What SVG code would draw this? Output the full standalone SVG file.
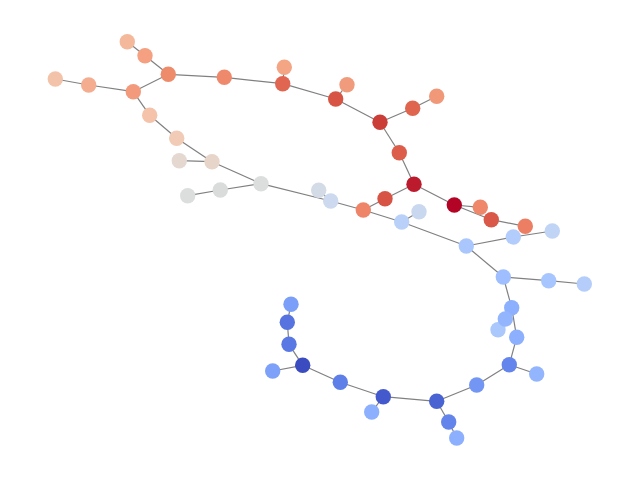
<svg xmlns="http://www.w3.org/2000/svg" width="640" height="480" viewBox="0 0 640 480">
<style>
.e{stroke:#808080;stroke-width:1.2;fill:none}
.n circle{r:7.7;stroke:none}
</style>
<rect width="640" height="480" fill="#ffffff"/>
<g id="edges" class="e">
<line x1="127.3" y1="41.7" x2="145" y2="55.7"/>
<line x1="145" y1="55.7" x2="168.3" y2="74.3"/>
<line x1="168.3" y1="74.3" x2="133.3" y2="91.7"/>
<line x1="133.3" y1="91.7" x2="88.7" y2="85"/>
<line x1="88.7" y1="85" x2="55.3" y2="79"/>
<line x1="168.3" y1="74.3" x2="224.3" y2="77.3"/>
<line x1="224.3" y1="77.3" x2="282.7" y2="83.7"/>
<line x1="282.7" y1="83.7" x2="284.3" y2="67.3"/>
<line x1="282.7" y1="83.7" x2="335.7" y2="99"/>
<line x1="335.7" y1="99" x2="347" y2="84.7"/>
<line x1="335.7" y1="99" x2="380" y2="122.3"/>
<line x1="380" y1="122.3" x2="412.7" y2="108.3"/>
<line x1="412.7" y1="108.3" x2="436.7" y2="96.3"/>
<line x1="380" y1="122.3" x2="399.3" y2="152.7"/>
<line x1="399.3" y1="152.7" x2="414" y2="184.3"/>
<line x1="414" y1="184.3" x2="385" y2="198.7"/>
<line x1="385" y1="198.7" x2="363.3" y2="210"/>
<line x1="414" y1="184.3" x2="454.3" y2="205"/>
<line x1="454.3" y1="205" x2="480.3" y2="207.3"/>
<line x1="454.3" y1="205" x2="491.3" y2="219.7"/>
<line x1="491.3" y1="219.7" x2="525.3" y2="226.3"/>
<line x1="133.3" y1="91.7" x2="149.7" y2="115.3"/>
<line x1="149.7" y1="115.3" x2="176.7" y2="138.3"/>
<line x1="176.7" y1="138.3" x2="212" y2="161.7"/>
<line x1="212" y1="161.7" x2="179.3" y2="160.7"/>
<line x1="212" y1="161.7" x2="261" y2="183.7"/>
<line x1="261" y1="183.7" x2="220.3" y2="190"/>
<line x1="220.3" y1="190" x2="187.7" y2="195.7"/>
<line x1="261" y1="183.7" x2="330.7" y2="201"/>
<line x1="318.7" y1="190.3" x2="330.7" y2="201"/>
<line x1="330.7" y1="201" x2="363.3" y2="210"/>
<line x1="363.3" y1="210" x2="401.7" y2="222"/>
<line x1="401.7" y1="222" x2="419" y2="211.7"/>
<line x1="401.7" y1="222" x2="466.3" y2="246"/>
<line x1="466.3" y1="246" x2="513.3" y2="237"/>
<line x1="513.3" y1="237" x2="552.3" y2="231"/>
<line x1="466.3" y1="246" x2="503.3" y2="277"/>
<line x1="503.3" y1="277" x2="548.7" y2="280.7"/>
<line x1="548.7" y1="280.7" x2="584.3" y2="284"/>
<line x1="503.3" y1="277" x2="511.7" y2="307.7"/>
<line x1="511.7" y1="307.7" x2="505.3" y2="319"/>
<line x1="505.3" y1="319" x2="498" y2="329.7"/>
<line x1="511.7" y1="307.7" x2="516.7" y2="337.3"/>
<line x1="516.7" y1="337.3" x2="509.3" y2="364.7"/>
<line x1="509.3" y1="364.7" x2="536.7" y2="374"/>
<line x1="509.3" y1="364.7" x2="476.7" y2="385"/>
<line x1="476.7" y1="385" x2="436.7" y2="401.3"/>
<line x1="436.7" y1="401.3" x2="448.7" y2="422"/>
<line x1="448.7" y1="422" x2="456.7" y2="438"/>
<line x1="436.7" y1="401.3" x2="383.3" y2="396.7"/>
<line x1="383.3" y1="396.7" x2="371.7" y2="412"/>
<line x1="383.3" y1="396.7" x2="340.3" y2="382.3"/>
<line x1="340.3" y1="382.3" x2="302.7" y2="365.3"/>
<line x1="302.7" y1="365.3" x2="272.7" y2="371"/>
<line x1="302.7" y1="365.3" x2="289" y2="344.3"/>
<line x1="289" y1="344.3" x2="287.3" y2="322.3"/>
<line x1="287.3" y1="322.3" x2="291" y2="304.3"/>
</g>
<g class="n">
<g id="n1"><circle cx="127.3" cy="41.7" fill="#f4b99b"/></g>
<g id="n2"><circle cx="145" cy="55.7" fill="#f5a081"/></g>
<g id="n3"><circle cx="168.3" cy="74.3" fill="#ee8b6b"/></g>
<g id="n4"><circle cx="55.3" cy="79" fill="#f3c3a9"/></g>
<g id="n5"><circle cx="88.7" cy="85" fill="#f4ad8f"/></g>
<g id="n6"><circle cx="133.3" cy="91.7" fill="#f29a7b"/></g>
<g id="n7"><circle cx="224.3" cy="77.3" fill="#ee8a6b"/></g>
<g id="n8"><circle cx="284.3" cy="67.3" fill="#f4a584"/></g>
<g id="n9"><circle cx="282.7" cy="83.7" fill="#e06651"/></g>
<g id="n10"><circle cx="347" cy="84.7" fill="#f09c7c"/></g>
<g id="n11"><circle cx="335.7" cy="99" fill="#d75445"/></g>
<g id="n12"><circle cx="149.7" cy="115.3" fill="#f4c3a9"/></g>
<g id="n13"><circle cx="176.7" cy="138.3" fill="#f1cbb5"/></g>
<g id="n14"><circle cx="179.3" cy="160.7" fill="#e5d8d1"/></g>
<g id="n15"><circle cx="212" cy="161.7" fill="#e8d5c9"/></g>
<g id="n16"><circle cx="261" cy="183.7" fill="#dcdddd"/></g>
<g id="n17"><circle cx="220.3" cy="190" fill="#dadbdb"/></g>
<g id="n18"><circle cx="187.7" cy="195.7" fill="#dcdddd"/></g>
<g id="n19"><circle cx="318.7" cy="190.3" fill="#d3dbe6"/></g>
<g id="n20"><circle cx="330.7" cy="201" fill="#ccd9ee"/></g>
<g id="n21"><circle cx="380" cy="122.3" fill="#cb3e38"/></g>
<g id="n22"><circle cx="412.7" cy="108.3" fill="#e0654f"/></g>
<g id="n23"><circle cx="436.7" cy="96.3" fill="#f19879"/></g>
<g id="n24"><circle cx="399.3" cy="152.7" fill="#dc5d4a"/></g>
<g id="n25"><circle cx="414" cy="184.3" fill="#bb1b2c"/></g>
<g id="n26"><circle cx="385" cy="198.7" fill="#d75445"/></g>
<g id="n27"><circle cx="363.3" cy="210" fill="#ee8468"/></g>
<g id="n28"><circle cx="419" cy="211.7" fill="#cad8ef"/></g>
<g id="n29"><circle cx="401.7" cy="222" fill="#b9d0f9"/></g>
<g id="n30"><circle cx="454.3" cy="205" fill="#b40426"/></g>
<g id="n31"><circle cx="480.3" cy="207.3" fill="#ef886b"/></g>
<g id="n32"><circle cx="491.3" cy="219.7" fill="#d95847"/></g>
<g id="n33"><circle cx="525.3" cy="226.3" fill="#ec7f63"/></g>
<g id="n34"><circle cx="466.3" cy="246" fill="#aac7fd"/></g>
<g id="n35"><circle cx="513.3" cy="237" fill="#b2ccfb"/></g>
<g id="n36"><circle cx="552.3" cy="231" fill="#c0d4f5"/></g>
<g id="n37"><circle cx="503.3" cy="277" fill="#9ebeff"/></g>
<g id="n38"><circle cx="548.7" cy="280.7" fill="#a7c5fe"/></g>
<g id="n39"><circle cx="584.3" cy="284" fill="#b5cdfa"/></g>
<g id="n40"><circle cx="511.7" cy="307.7" fill="#8db0fe"/></g>
<g id="n41"><circle cx="498" cy="329.7" fill="#abc8fd"/></g>
<g id="n42"><circle cx="505.3" cy="319" fill="#93b5fe"/></g>
<g id="n43"><circle cx="516.7" cy="337.3" fill="#8caffe"/></g>
<g id="n44"><circle cx="509.3" cy="364.7" fill="#6485ec"/></g>
<g id="n45"><circle cx="536.7" cy="374" fill="#93b5fe"/></g>
<g id="n46"><circle cx="476.7" cy="385" fill="#7396f5"/></g>
<g id="n47"><circle cx="436.7" cy="401.3" fill="#4a63d3"/></g>
<g id="n48"><circle cx="448.7" cy="422" fill="#6384eb"/></g>
<g id="n49"><circle cx="456.7" cy="438" fill="#8db0fe"/></g>
<g id="n50"><circle cx="383.3" cy="396.7" fill="#445acc"/></g>
<g id="n51"><circle cx="371.7" cy="412" fill="#8caffe"/></g>
<g id="n52"><circle cx="340.3" cy="382.3" fill="#5f7fe8"/></g>
<g id="n53"><circle cx="302.7" cy="365.3" fill="#3b4cc0"/></g>
<g id="n54"><circle cx="272.7" cy="371" fill="#7da0f9"/></g>
<g id="n55"><circle cx="289" cy="344.3" fill="#5a78e4"/></g>
<g id="n56"><circle cx="287.3" cy="322.3" fill="#5673e0"/></g>
<g id="n57"><circle cx="291" cy="304.3" fill="#7b9ff9"/></g>
</g>
</svg>
